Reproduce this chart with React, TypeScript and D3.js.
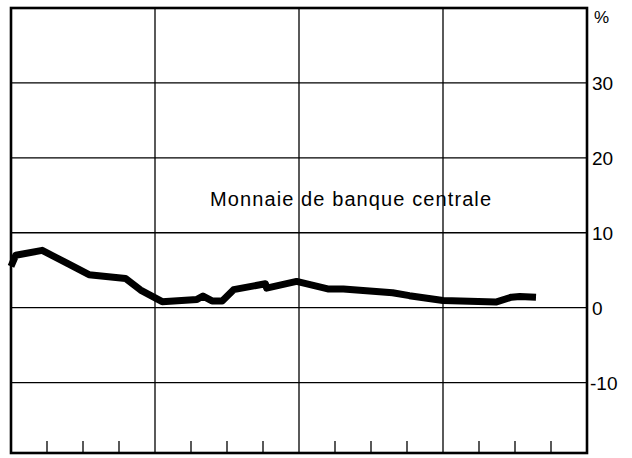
import React from "react";
import * as d3 from "d3";

const months = [0, 0.4, 2.6, 4.7, 6.5, 9.55, 10.8, 12.6, 15.5, 16.0, 16.75, 17.6, 18.55, 21.2, 21.3, 23.8, 26.4, 27.7, 31.8, 33.2, 36.0, 40.4, 41.7, 42.4, 43.75];
const values = [5.5, 7.0, 7.65, 5.9, 4.4, 3.9, 2.35, 0.8, 1.1, 1.55, 0.9, 0.9, 2.4, 3.2, 2.6, 3.5, 2.5, 2.5, 2.0, 1.6, 0.95, 0.75, 1.4, 1.5, 1.4];
const yTicks = [30, 20, 10, 0, -10];
const xGrid = [12, 24, 36];
const xMinor = [3, 6, 9, 15, 18, 21, 27, 30, 33, 39, 42, 45];
const seriesLabel = "Monnaie de banque centrale";

export default function App() {
  const W = 632, H = 458;
  const left = 11, right = 587, top = 8, bottom = 453;
  const x = d3.scaleLinear().domain([0, 48]).range([left, right]);
  const y = d3.scaleLinear().domain([-19.4, 40]).range([bottom, top]);
  const pts: [number, number][] = months.map((m, i) => [m, values[i]]);
  const line = d3.line<[number, number]>().x(d => x(d[0])).y(d => y(d[1]));
  const font = "'Liberation Sans', Arial, Helvetica, sans-serif";
  return (
    <svg width={W} height={H} style={{ position: "absolute", left: 0, top: 0 }}>
      <rect x={0} y={0} width={W} height={H} fill="#fff" />
      {yTicks.map(t => (
        <line key={"h" + t} x1={left} x2={right} y1={y(t)} y2={y(t)} stroke="#000" strokeWidth={1.3} />
      ))}
      {xGrid.map(m => (
        <line key={"v" + m} x1={x(m)} x2={x(m)} y1={top} y2={bottom} stroke="#000" strokeWidth={1.3} />
      ))}
      {xMinor.map(m => (
        <line key={"t" + m} x1={x(m)} x2={x(m)} y1={bottom - 12} y2={bottom} stroke="#000" strokeWidth={1.3} />
      ))}
      <path d={line(pts) || ""} fill="none" stroke="#000" strokeWidth={7} strokeLinejoin="round" strokeLinecap="butt" />
      <rect x={left} y={top} width={right - left} height={bottom - top} fill="none" stroke="#000" strokeWidth={2.6} />
      {yTicks.map(t => (
        <text key={"l" + t} x={t < 0 ? 590 : 592} y={y(t) + 7} fontFamily={font} fontSize={19} fill="#000">
          {t < 0 ? "-" + Math.abs(t) : String(t)}
        </text>
      ))}
      <text x={594} y={23} fontFamily={font} fontSize={17} fill="#000">%</text>
      <text x={210} y={206} fontFamily={font} fontSize={20} letterSpacing={1.1} fill="#000">{seriesLabel}</text>
    </svg>
  );
}
